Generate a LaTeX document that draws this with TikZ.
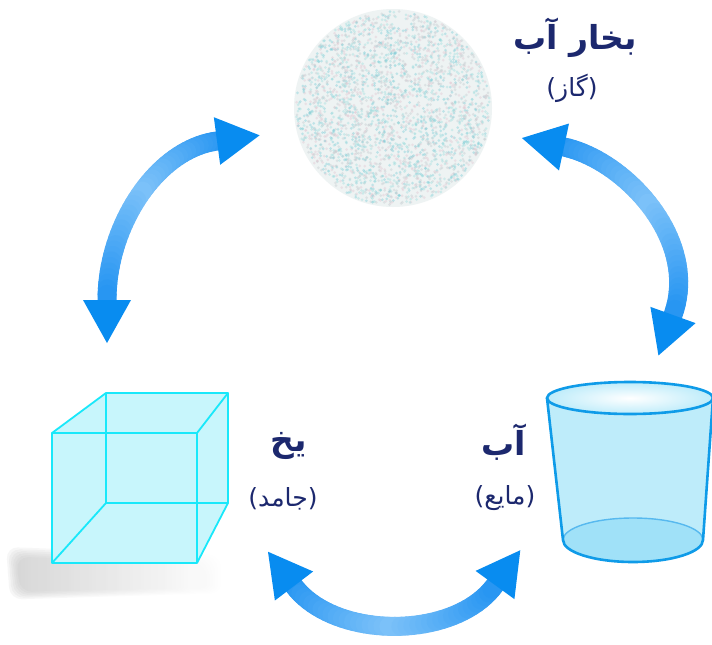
\documentclass[tikz,border=0pt]{standalone}
\usepackage{fontspec}
\usetikzlibrary{calc}
\TeXXeTstate=1
\newfontfamily\farsi[Script=Arabic]{DejaVu Sans}

\definecolor{labelnavy}{RGB}{28,40,110}
\definecolor{tipblue}{RGB}{8,140,240}
\definecolor{shaftdark}{RGB}{40,150,242}
\definecolor{shaftlight}{RGB}{140,202,250}
\definecolor{icecyan}{RGB}{25,232,250}
\definecolor{icefill}{RGB}{200,246,252}
\definecolor{cupline}{RGB}{15,155,232}
\definecolor{cupfill}{RGB}{190,236,250}
\definecolor{cupbottom}{RGB}{160,225,248}
\definecolor{gasbase}{RGB}{238,243,243}
\definecolor{speckA}{RGB}{160,222,222}
\definecolor{speckB}{RGB}{226,200,210}
\definecolor{speckC}{RGB}{196,204,208}
\definecolor{speckD}{RGB}{125,205,215}

\tikzset{
  statename/.style={text=labelnavy, font=\farsi\bfseries\fontsize{33}{38}\selectfont, inner sep=0},
  statekind/.style={text=labelnavy, font=\farsi\fontsize{25}{30}\selectfont, inner sep=0},
  iceedge/.style={draw=icecyan, line width=1.8, line join=round},
  shaft/.style={line width=19, line cap=round},
}

% double-headed curved arrow: base #1, controls #2 and #3, base #4
\newcommand\phasearrow[4]{%
  \path (#1) .. controls (#2) and (#3) .. (#4)
    \foreach \i in {0,...,40} {coordinate[pos=\i/40] (seg\i)};
  \foreach \i [evaluate=\i as \j using int(\i+1),
               evaluate=\i as \mixval using int(round(85*(1-abs(\i/19.5-1))))] in {0,...,39}
    \draw[shaft, shaftlight!\mixval!shaftdark] (seg\i) -- (seg\j);
  \fill[tipblue] ($(#1)!-43pt!(#2)$) -- ($(#1)!24pt!90:(#2)$) -- ($(#1)!24pt!-90:(#2)$) -- cycle;
  \fill[tipblue] ($(#4)!-43pt!(#3)$) -- ($(#4)!24pt!90:(#3)$) -- ($(#4)!24pt!-90:(#3)$) -- cycle;
}

\begin{document}
\begin{tikzpicture}[x=1pt,y=-1pt]
\useasboundingbox[fill=white] (0,0) rectangle (712,645);

% ---- water vapour: speckled cloud ----
\coordinate (gas) at (393,108);
\fill[gasbase] (gas) circle (99);
\pgfmathsetseed{11}
\foreach \k in {1,...,2800}{
  \pgfmathsetmacro\spr{97*sqrt(rnd)}
  \pgfmathsetmacro\spa{360*rnd}
  \pgfmathsetmacro\spc{random(1,4)}
  \ifcase\spc\or\def\spcol{speckA}\or\def\spcol{speckB}\or\def\spcol{speckC}\or\def\spcol{speckD}\fi
  \fill[\spcol, opacity=0.42] ($(gas)+(\spa:\spr)$) circle (1.5);
}

% ---- ice cube with its soft shadow ----
\foreach \s in {0,...,5}
  \shade[left color=black!30, right color=white, opacity=0.11, rounded corners=12]
    (16-\s*2,557-\s*2) -- (200+\s*4,560-\s) -- (212+\s*2,588+\s) -- (20-\s*2,592+\s*1.5) -- cycle;
\coordinate (ftl) at (52,433);  \coordinate (ftr) at (197,433);
\coordinate (fbr) at (197,563); \coordinate (fbl) at (52,563);
\coordinate (btl) at (106,393); \coordinate (btr) at (228,393);
\coordinate (bbr) at (228,503); \coordinate (bbl) at (106,503);
\fill[icefill] (fbl) -- (ftl) -- (btl) -- (btr) -- (bbr) -- (fbr) -- cycle;
\draw[iceedge] (btl) -- (bbl) -- (bbr);
\draw[iceedge] (bbl) -- (fbl);
\draw[iceedge] (ftl) rectangle (fbr);
\draw[iceedge] (ftl) -- (btl) -- (btr) -- (ftr);
\draw[iceedge] (btr) -- (bbr) -- (fbr);

% ---- cup of water ----
\coordinate (cuptop) at (630,398);
\coordinate (cupbase) at (633,540);
\fill[cupfill] (547,398) -- (563,540) arc[start angle=180, end angle=0, x radius=70, y radius=22]
  -- (713,398) -- cycle;
\fill[cupbottom] (cupbase) ellipse [x radius=70, y radius=22];
\draw[cupline!70, line width=1.4] (563,540) arc[start angle=180, end angle=360, x radius=70, y radius=22];
\shade[inner color=white, outer color=cupfill] (cuptop) ellipse [x radius=83, y radius=16];
\draw[cupline, line width=2.6, line join=round] (547,398) -- (563,540)
  arc[start angle=180, end angle=0, x radius=70, y radius=22] -- (713,398);
\draw[cupline, line width=2.6] (cuptop) ellipse [x radius=83, y radius=16];

% ---- labels ----
\node[statename] (vapour) at (575,38) {\beginR بخار آب\endR};
\node[statekind] (vapourkind) at (572,88) {\beginR (گاز)\endR};
\node[statename] (ice) at (289,446) {\beginR یخ\endR};
\node[statekind] (icekind) at (283,499) {\beginR (جامد)\endR};
\node[statename] (water) at (504,442) {\beginR آب\endR};
\node[statekind] (waterkind) at (505,498) {\beginR (مایع)\endR};

% ---- phase-change arrows ----
\coordinate (la) at (217,141); \coordinate (lc1) at (157,149);
\coordinate (lc2) at (107,225); \coordinate (lb) at (107,300);
\phasearrow{la}{lc1}{lc2}{lb}

\coordinate (ra) at (564,147); \coordinate (rc1) at (625,160);
\coordinate (rc2) at (700,240); \coordinate (rb) at (673,315);
\phasearrow{ra}{rc1}{rc2}{rb}

\coordinate (ba) at (294,586); \coordinate (bc1) at (335,640);
\coordinate (bc2) at (455,640); \coordinate (bb) at (495,585);
\phasearrow{ba}{bc1}{bc2}{bb}
\end{tikzpicture}
\end{document}
